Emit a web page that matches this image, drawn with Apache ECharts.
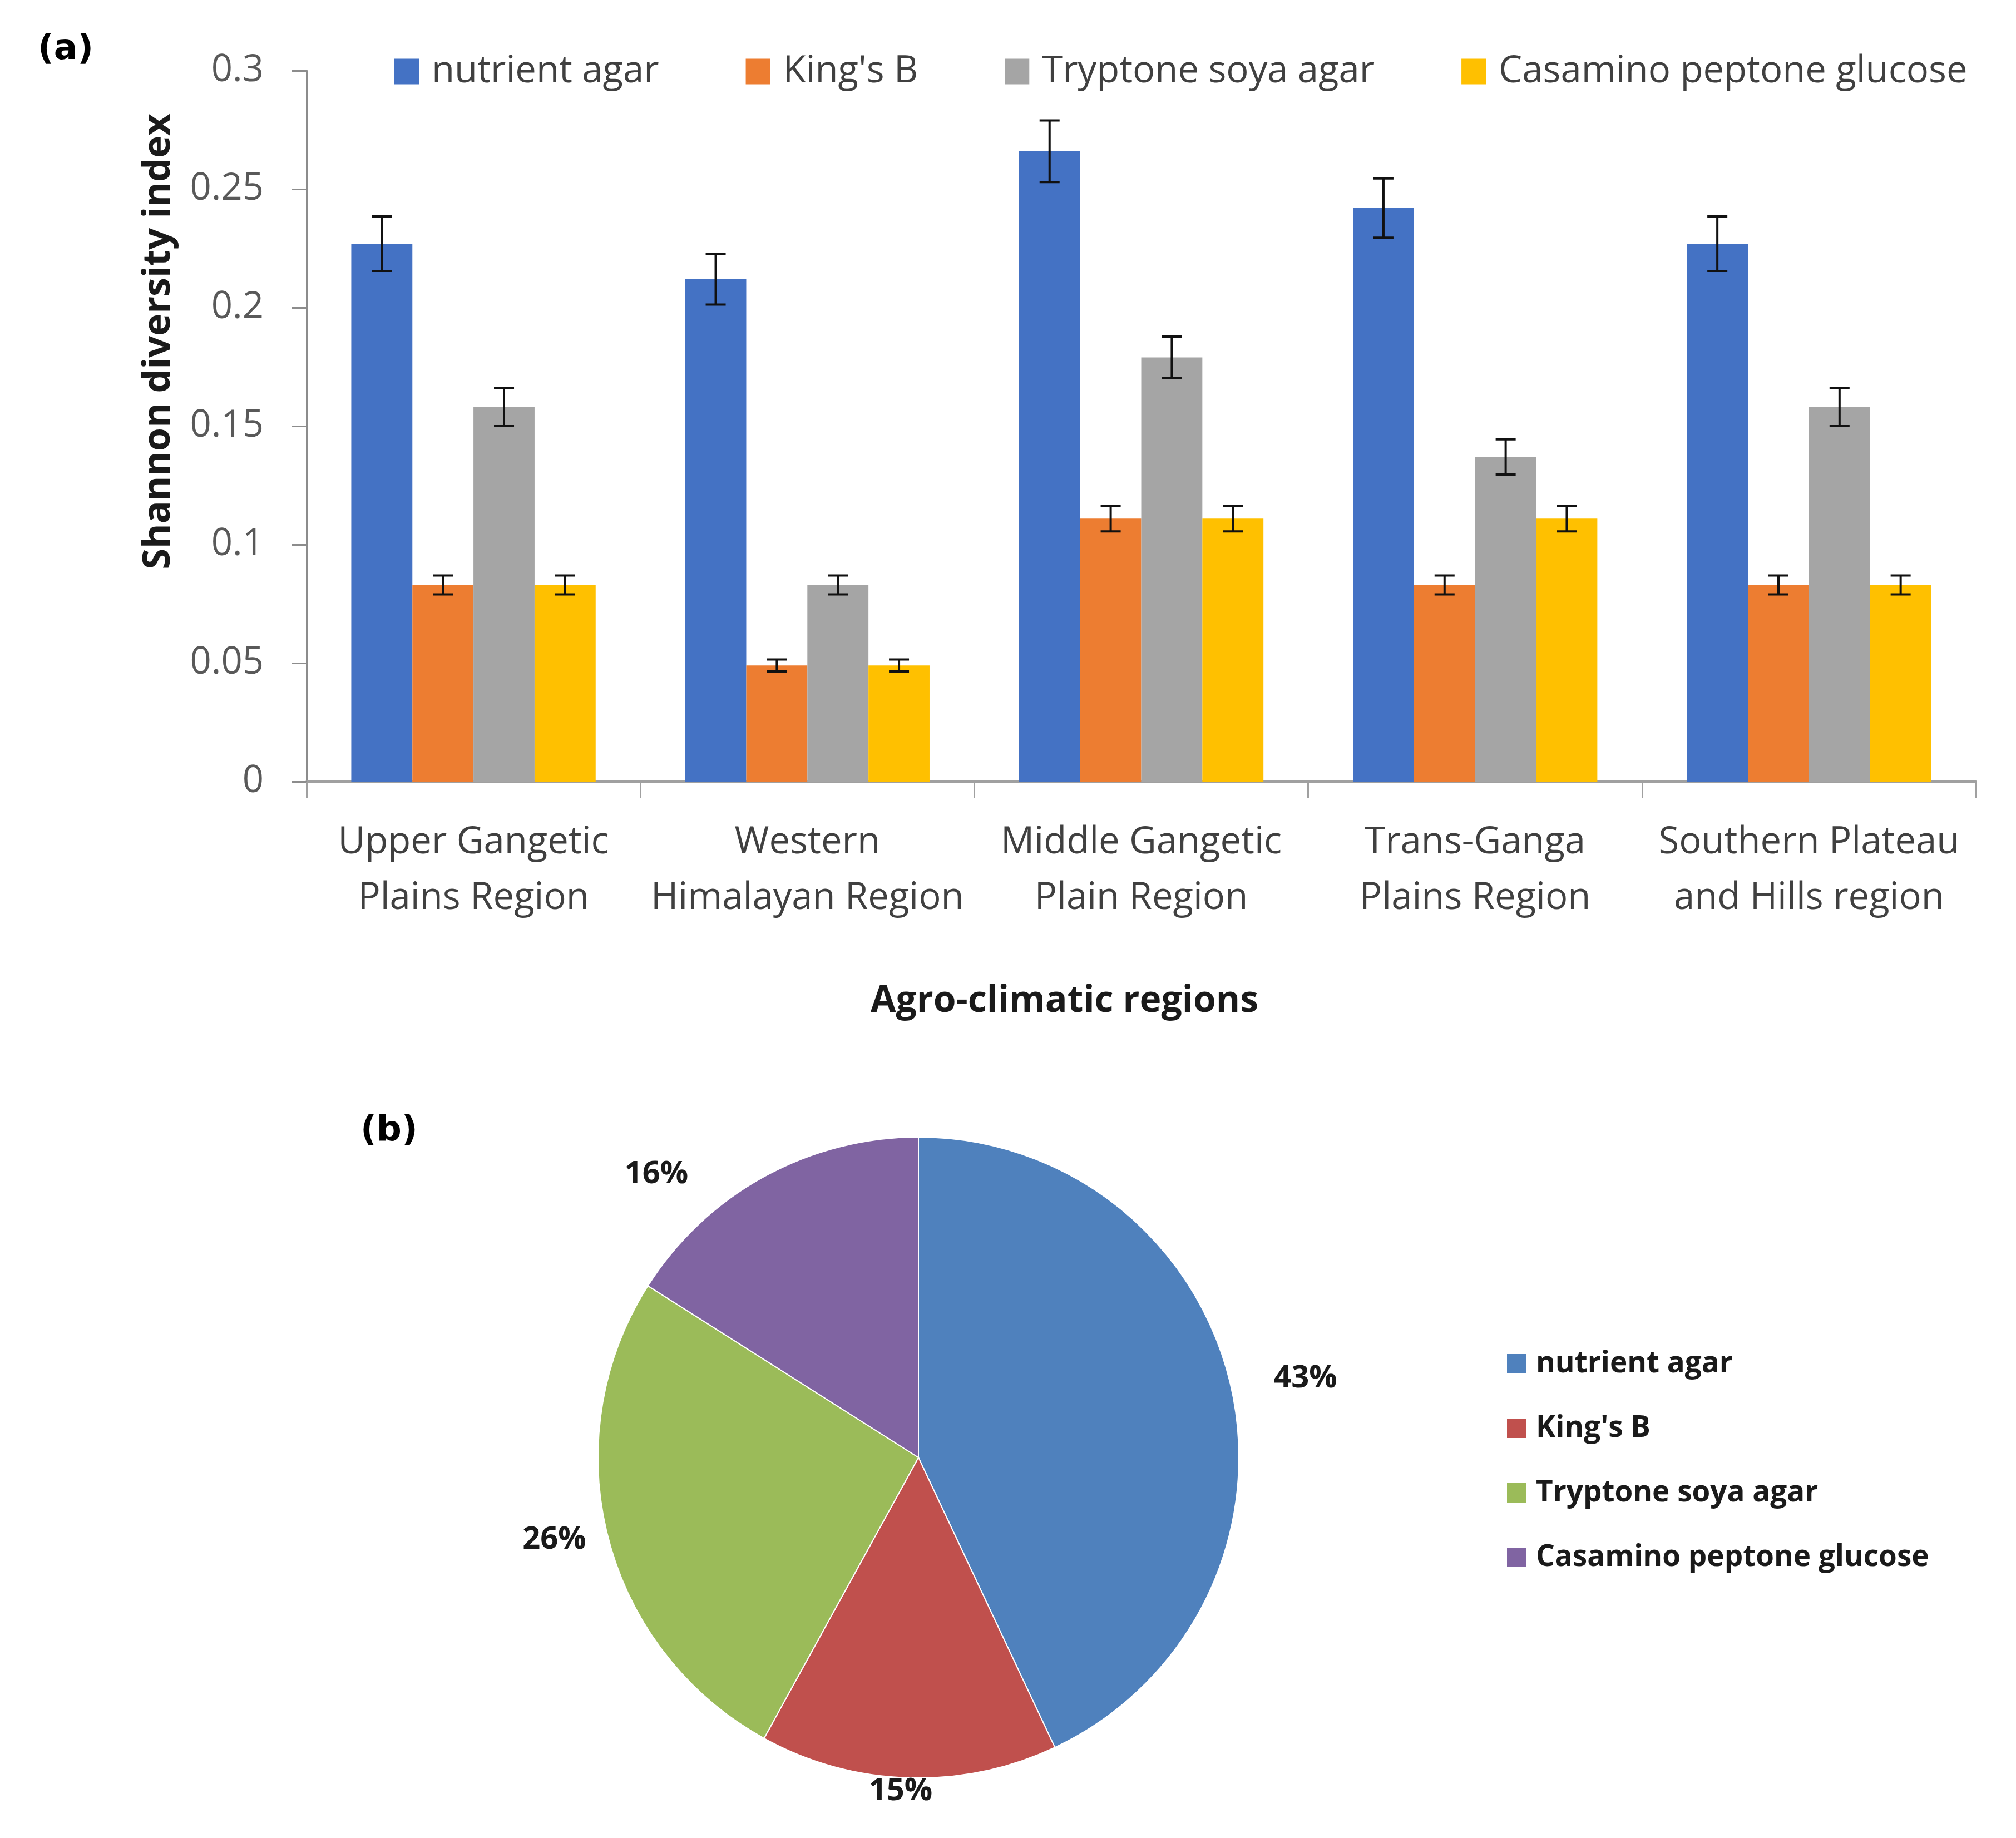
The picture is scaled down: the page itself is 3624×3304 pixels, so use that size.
<!DOCTYPE html>
<html>
<head>
<meta charset="utf-8">
<script src="https://cdn.jsdelivr.net/npm/echarts@6/dist/echarts.min.js"></script>
<style>
html, body { margin: 0; padding: 0; background: #ffffff; }
#chart { width: 3624px; height: 3304px; }
</style>
</head>
<body>
<div id="chart"></div>
<script>
// ---------- data ----------
const categories = [
  'Upper Gangetic\nPlains Region',
  'Western\nHimalayan Region',
  'Middle Gangetic\nPlain Region',
  'Trans-Ganga\nPlains Region',
  'Southern Plateau\nand Hills region'
];
const media = ['nutrient agar', "King's B", 'Tryptone soya agar', 'Casamino peptone glucose'];

const nutrientAgar = [0.227, 0.212, 0.266, 0.242, 0.227];
const kingsB       = [0.083, 0.049, 0.111, 0.083, 0.083];
const tryptoneSoya = [0.158, 0.083, 0.179, 0.137, 0.158];
const casamino     = [0.083, 0.049, 0.111, 0.111, 0.083];

const nutrientAgarErr = [0.0115, 0.0107, 0.0130, 0.0125, 0.0115];
const kingsBErr       = [0.0040, 0.0025, 0.0054, 0.0040, 0.0040];
const tryptoneSoyaErr = [0.0080, 0.0040, 0.0088, 0.0074, 0.0080];
const casaminoErr     = [0.0040, 0.0025, 0.0054, 0.0054, 0.0040];

const yMin = 0, yMax = 0.3, yStep = 0.05;

const pieShares = [43, 15, 26, 16];

// ---------- styling ----------
const barColors = ['#4472C4', '#ED7D31', '#A5A5A5', '#FFC000'];
const pieColors = ['#4F81BD', '#C0504D', '#9BBB59', '#8064A2'];
const FONT = '"Open Sans", "Noto Sans", sans-serif';
const CAT_GAP = 0.268;

const barValues = [nutrientAgar, kingsB, tryptoneSoya, casamino];
const barErrors = [nutrientAgarErr, kingsBErr, tryptoneSoyaErr, casaminoErr];

const errData = [];
barValues.forEach((vals, s) => {
  vals.forEach((v, c) => errData.push([c, s, v, barErrors[s][c]]));
});

// per-slice label offsets (label placement only)
const pieLabelLines = [
  { length: 75, length2: 3 },
  { length: 24, length2: -44 },
  { length: 20, length2: 20 },
  { length: 5, length2: 134 }
];

const chart = echarts.init(document.getElementById('chart'), null, { renderer: 'canvas', devicePixelRatio: 1 });

const option = {
  backgroundColor: '#ffffff',
  animation: false,
  textStyle: { fontFamily: FONT },
  graphic: [
    { type: 'text', left: 68, top: 58, style: { text: '(a)', font: 'bold 63px "DejaVu Sans", sans-serif', fill: '#000' } },
    { type: 'text', left: 648, top: 2002, style: { text: '(b)', font: 'bold 63px "DejaVu Sans", sans-serif', fill: '#000' } }
  ],
  legend: [
    {
      data: media,
      left: 704,
      top: 90,
      orient: 'horizontal',
      itemGap: 156,
      itemWidth: 44,
      itemHeight: 46,
      icon: 'rect',
      textStyle: { fontSize: 67, color: '#404040', fontFamily: FONT, padding: [0, 0, 0, 18] }
    },
    {
      data: media.map((m, i) => ({ name: m, icon: 'rect', itemStyle: { color: pieColors[i] } })),
      left: 2704,
      top: 2420,
      orient: 'vertical',
      itemGap: 63,
      itemWidth: 35,
      itemHeight: 35,
      textStyle: { fontSize: 53, fontWeight: 'bold', color: '#1a1a1a', fontFamily: FONT, padding: [0, 0, 0, 12] }
    }
  ],
  grid: { left: 551, right: 72, top: 127, bottom: 1899, containLabel: false },
  xAxis: {
    type: 'category',
    data: categories,
    boundaryGap: true,
    name: 'Agro-climatic regions',
    nameLocation: 'middle',
    nameGap: 362,
    nameTextStyle: { fontSize: 66, fontWeight: 'bold', color: '#1a1a1a', fontFamily: FONT, padding: [0, 276, 0, 0] },
    axisLine: { show: true, lineStyle: { color: '#A0A0A0', width: 4 } },
    axisTick: { show: true, length: 30, lineStyle: { color: '#A0A0A0', width: 3 } },
    axisLabel: { fontSize: 67, lineHeight: 100, margin: 60, color: '#404040', fontFamily: FONT, interval: 0 }
  },
  yAxis: {
    type: 'value',
    min: yMin,
    max: yMax,
    interval: yStep,
    name: 'Shannon diversity index',
    nameLocation: 'middle',
    nameGap: 231,
    nameTextStyle: { fontSize: 68, fontWeight: 'bold', color: '#1a1a1a', fontFamily: FONT, padding: [0, 0, 0, 304] },
    axisLine: { show: true, lineStyle: { color: '#8C8C8C', width: 3 } },
    axisTick: { show: true, length: 26, lineStyle: { color: '#8C8C8C', width: 3 } },
    axisLabel: { fontSize: 67, margin: 77, color: '#595959', fontFamily: FONT },
    splitLine: { show: false }
  },
  series: [
    ...media.map((m, i) => ({
      name: m,
      type: 'bar',
      data: barValues[i],
      barGap: '0%',
      barCategoryGap: (CAT_GAP * 100) + '%',
      itemStyle: { color: barColors[i] },
      z: 2
    })),
    {
      name: 'error bars',
      type: 'custom',
      data: errData,
      encode: { x: 0, y: 2 },
      z: 10,
      silent: true,
      renderItem: function (params, api) {
        const c = api.value(0), s = api.value(1), m = api.value(2), e = api.value(3);
        const band = api.size([1, 0])[0];
        const bw = band * (1 - CAT_GAP) / media.length;
        const x = api.coord([c, m])[0] + (s - (media.length - 1) / 2) * bw;
        const yT = api.coord([c, m + e])[1];
        const yB = api.coord([c, m - e])[1];
        const hw = 18;
        const st = { stroke: '#111', lineWidth: 4 };
        return {
          type: 'group',
          children: [
            { type: 'line', shape: { x1: x, y1: yT, x2: x, y2: yB }, style: st },
            { type: 'line', shape: { x1: x - hw, y1: yT, x2: x + hw, y2: yT }, style: st },
            { type: 'line', shape: { x1: x - hw, y1: yB, x2: x + hw, y2: yB }, style: st }
          ]
        };
      }
    },
    {
      name: 'share',
      type: 'pie',
      center: [1651, 2620],
      radius: 576,
      startAngle: 90,
      clockwise: true,
      avoidLabelOverlap: false,
      itemStyle: { borderColor: '#ffffff', borderWidth: 2 },
      label: {
        show: true,
        position: 'outside',
        formatter: '{c}%',
        fontSize: 56,
        fontWeight: 'bold',
        color: '#1a1a1a',
        fontFamily: FONT,
        distanceToLabelLine: 0
      },
      labelLine: { show: false },
      emphasis: { scale: false },
      data: media.map((m, i) => ({
        name: m,
        value: pieShares[i],
        itemStyle: { color: pieColors[i] },
        labelLine: Object.assign({ show: false }, pieLabelLines[i])
      }))
    }
  ]
};

chart.setOption(option);
</script>
</body>
</html>
